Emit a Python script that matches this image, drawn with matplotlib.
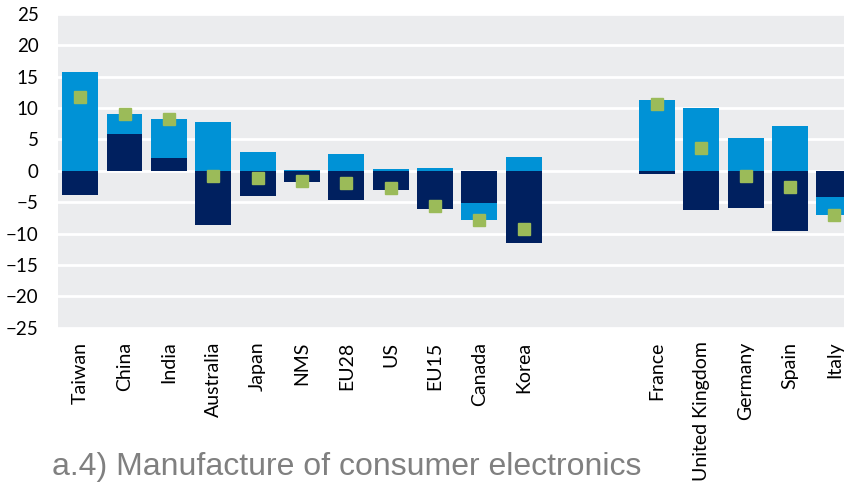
import numpy as np
from matplotlib import pyplot as plt

# countries (two empty slots between Korea and France)
countries = ['Taiwan', 'China', 'India', 'Australia', 'Japan', 'NMS', 'EU28', 'US',
             'EU15', 'Canada', 'Korea', 'France', 'United Kingdom', 'Germany', 'Spain', 'Italy']
slots = [0, 1, 2, 3, 4, 5, 6, 7, 8, 9, 10, 13, 14, 15, 16, 17]

# dark component, light component (stacked from zero), green marker
dark = [-3.9, 5.8, 2.1, -8.6, -4.0, -1.75, -4.7, -3.1,
        -6.05, -5.2, -11.45, -0.55, -6.3, -6.0, -9.6, -4.15]
light = [15.8, 3.2, 6.2, 7.75, 2.95, 0.15, 2.65, 0.3,
         0.5, -2.6, 2.25, 11.25, 10.0, 5.2, 7.1, -2.85]
total = [11.7, 9.0, 8.25, -0.85, -1.15, -1.65, -1.95, -2.75,
         -5.6, -7.85, -9.25, 10.6, 3.6, -0.85, -2.6, -7.05]

DARK = '#00205f'
LIGHT = '#0092d6'
GREEN = '#9bbb59'

plt.rcParams['font.family'] = ['Lato', 'DejaVu Sans']

fig = plt.figure(figsize=(8.45, 4.84), dpi=100)
ax = fig.add_axes([0.0686, 0.323, 0.945, 0.648])
ax.set_facecolor('#ebecee')

x = np.array(slots, dtype=float)
dark = np.array(dark)
light = np.array(light)

# light part stacks on dark when both have same sign, otherwise starts at zero
bottom_light = np.where(np.sign(dark) == np.sign(light), dark, 0)
ax.bar(x, dark, width=0.81, color=DARK, zorder=2)
ax.bar(x, light, width=0.81, bottom=bottom_light, color=LIGHT, zorder=2)
ax.plot(x, total, 's', color=GREEN, markersize=8, zorder=3)

ax.set_xlim(-0.5, 17.5)
ax.set_ylim(-25, 25)
ax.set_yticks(np.arange(-25, 26, 5))
ax.set_xticks(x)
ax.set_xticklabels(countries, rotation=90, va='top', ha='center')
ax.tick_params(axis='y', length=0, pad=14, labelsize=13.5)
ax.tick_params(axis='x', length=0, pad=10, labelsize=14)
ax.grid(axis='y', color='white', linewidth=2, zorder=1)
ax.set_axisbelow(True)
for s in ax.spines.values():
    s.set_visible(False)

fig.text(0.062, 0.019, 'a.4) Manufacture of consumer electronics',
         fontsize=23, color='#808080', family=['Liberation Sans', 'DejaVu Sans'])

plt.savefig('out.png', dpi=100)
